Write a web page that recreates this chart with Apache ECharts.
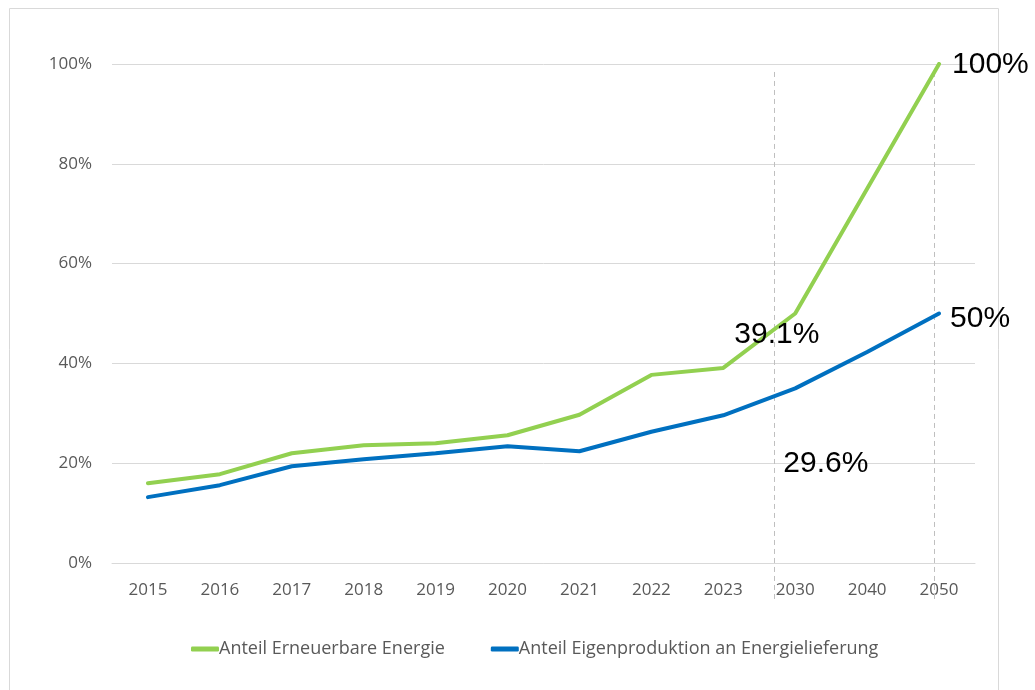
<!DOCTYPE html>
<html>
<head>
<meta charset="utf-8">
<script src="https://cdn.jsdelivr.net/npm/echarts@6/dist/echarts.min.js"></script>
<style>
  html, body { margin: 0; padding: 0; background: #fff; }
  #chart { width: 1035px; height: 690px; }
</style>
</head>
<body>
<div id="chart"></div>
<script>
  // Jahre (Kategorien)
  var years = ['2015', '2016', '2017', '2018', '2019', '2020', '2021', '2022', '2023', '2030', '2040', '2050'];
  // Werte in %
  var erneuerbar = [16.0, 17.8, 22.0, 23.6, 24.0, 25.6, 29.7, 37.7, 39.1, 50.0, 75.0, 100.0];
  var eigenproduktion = [13.2, 15.6, 19.4, 20.8, 22.0, 23.4, 22.4, 26.3, 29.6, 35.0, 42.3, 50.0];
  var yTicks = [0, 20, 40, 60, 80, 100];
  // Markierungen (Kategorie-Index, auch Zwischenpositionen)
  var markerPos = [8.71, 10.93];
  // Beschriftungen: [Serie, Index, Text, dx, dy]
  var callouts = [
    [0, 11, '100%', 13, 1],
    [1, 11, '50%', 11, 5],
    [0, 8, '39.1%', 11, -33],
    [1, 8, '29.6%', 60, 48]
  ];

  var chart = echarts.init(document.getElementById('chart'));
  var option = {
    animation: false,
    grid: { left: 112, right: 60, top: 64, bottom: 127, containLabel: false },
    legend: {
      left: 186, top: 635,
      itemGap: 46,
      itemWidth: 28, itemHeight: 5,
      icon: 'roundRect',
      textStyle: { fontFamily: 'Open Sans, sans-serif', fontSize: 18, color: '#595959', padding: [0, 0, 0, -5] },
      data: ['Anteil Erneuerbare Energie', 'Anteil Eigenproduktion an Energielieferung']
    },
    xAxis: {
      type: 'category',
      data: years,
      boundaryGap: true,
      axisLine: { lineStyle: { color: '#d9d9d9', width: 1 } },
      axisTick: { show: false },
      axisLabel: { fontFamily: 'Open Sans, sans-serif', fontSize: 17, color: '#595959', margin: 19 }
    },
    yAxis: {
      type: 'value',
      min: yTicks[0], max: yTicks[yTicks.length - 1], interval: 20,
      axisLine: { show: false },
      axisTick: { show: false },
      splitLine: { lineStyle: { color: '#d9d9d9', width: 1 } },
      axisLabel: { fontFamily: 'Open Sans, sans-serif', fontSize: 17, color: '#595959', margin: 20, formatter: '{value}%' }
    },
    series: [
      {
        name: 'Anteil Erneuerbare Energie',
        type: 'line',
        data: erneuerbar,
        showSymbol: false, symbol: 'none',
        lineStyle: { color: '#92d050', width: 4, cap: 'round' },
        itemStyle: { color: '#92d050' },
        z: 3
      },
      {
        name: 'Anteil Eigenproduktion an Energielieferung',
        type: 'line',
        data: eigenproduktion,
        showSymbol: false, symbol: 'none',
        lineStyle: { color: '#0070c0', width: 4, cap: 'round' },
        itemStyle: { color: '#0070c0' },
        z: 3
      }
    ]
  };
  chart.setOption(option);

  var seriesData = [erneuerbar, eigenproduktion];
  var graphics = [{
    type: 'rect', silent: true, z: -1,
    shape: { x: 9.5, y: 8.5, width: 989, height: 700 },
    style: { fill: null, stroke: '#d9d9d9', lineWidth: 1 }
  }];

  // gestrichelte Linien (Position zwischen Kategorien interpoliert)
  markerPos.forEach(function (p) {
    var i0 = Math.floor(p), f = p - i0;
    var a = chart.convertToPixel({ gridIndex: 0 }, [i0, 98.4]);
    var b = chart.convertToPixel({ gridIndex: 0 }, [i0 + 1, 98.4]);
    var x = Math.round(a[0] + (b[0] - a[0]) * f) + 0.5;
    graphics.push({
      type: 'line', silent: true, z: 1,
      shape: { x1: x, y1: a[1], x2: x, y2: 600 },
      style: { stroke: '#bfbfbf', lineWidth: 1, lineDash: [5, 4] }
    });
  });

  // Beschriftungen
  callouts.forEach(function (c) {
    var pt = chart.convertToPixel({ gridIndex: 0 }, [c[1], seriesData[c[0]][c[1]]]);
    graphics.push({
      type: 'text', silent: true, z: 10,
      x: pt[0] + c[3], y: pt[1] + c[4],
      style: {
        text: c[2], fill: '#000',
        font: '30px "Liberation Sans", Arial, sans-serif',
        textAlign: 'left', textVerticalAlign: 'middle'
      }
    });
  });
  chart.setOption({ graphic: graphics });
</script>
</body>
</html>
